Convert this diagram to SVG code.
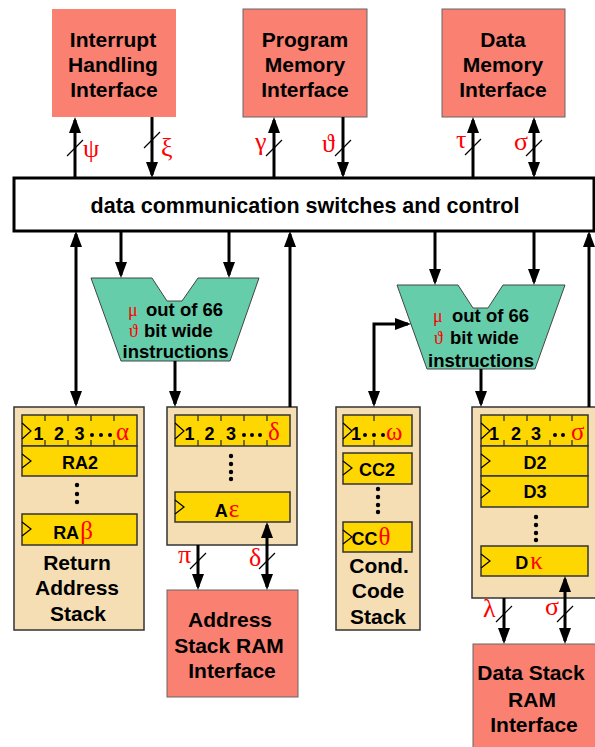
<svg xmlns="http://www.w3.org/2000/svg" width="595" height="747" viewBox="0 0 595 747">
<style>
.io{fill:#FA8072;stroke:#666;stroke-width:1}
.t{font-family:"Liberation Sans",Arial,sans-serif;font-weight:bold;font-size:21px;fill:#000;text-anchor:middle}
.r{font-family:"Liberation Sans",Arial,sans-serif;font-weight:bold;font-size:18px;fill:#000;text-anchor:middle}
.m{font-family:"Liberation Sans",Arial,sans-serif;font-weight:bold;font-size:18.5px;fill:#000}
.g{font-family:"Liberation Serif","DejaVu Serif",serif;font-weight:normal;font-size:26px;fill:#F00}
.gr{font-family:"Liberation Serif","DejaVu Serif",serif;font-weight:normal;font-size:25px;fill:#F00}
.gs{font-family:"Liberation Serif","DejaVu Serif",serif;font-weight:normal;font-size:18px;fill:#F00}
.stk{fill:#F5DEB3;stroke:#333;stroke-width:1.5}
.reg{fill:#FFD700;stroke:#333;stroke-width:1.5}
.tk{stroke:#333;stroke-width:1.3;fill:none}
.clk{stroke:#000;stroke-width:1.2;fill:none}
.mux{fill:#66CDAA;stroke:#444;stroke-width:1}
.w{stroke:#000;stroke-width:3;fill:none}
.sl{stroke:#000;stroke-width:1.2}
.dot{fill:#000}
</style>
<defs>
<marker id="ah" viewBox="0 0 16 12" refX="13" refY="6" markerWidth="16" markerHeight="12" markerUnits="userSpaceOnUse" orient="auto-start-reverse">
<path d="M0,0 L16,6 L0,12 z" fill="#000"/>
</marker>
</defs>

<g id="interrupt">
<rect x="52" y="9" width="124" height="108" fill="#FA8072"/>
<text class="t" x="113" y="47">Interrupt</text>
<text class="t" x="113" y="72">Handling</text>
<text class="t" x="114" y="97">Interface</text>
</g>
<g id="program-memory">
<rect class="io" x="243" y="9" width="124" height="108"/>
<text class="t" x="305" y="47">Program</text>
<text class="t" x="305" y="72">Memory</text>
<text class="t" x="305" y="97">Interface</text>
</g>
<g id="data-memory">
<rect class="io" x="442" y="9" width="123" height="108"/>
<text class="t" x="503" y="47">Data</text>
<text class="t" x="503" y="72">Memory</text>
<text class="t" x="503" y="97">Interface</text>
</g>

<g id="switches">
<rect x="14" y="178" width="580" height="53" fill="#FFF" stroke="#000" stroke-width="3"/>
<text class="t" x="305" y="213" style="font-size:21.5px">data communication switches and control</text>
</g>

<g id="mux1">
<path class="mux" d="M91,278 L152,278 L167,301 L182,301 L198,278 L259,278 L230,361 L121,361 Z"/>
<text class="m"><tspan class="gs" x="128" y="316">μ</tspan><tspan x="146" y="316">out of 66</tspan></text>
<text class="m"><tspan class="gs" x="129" y="337">ϑ</tspan><tspan x="144" y="337">bit wide</tspan></text>
<text class="m" x="175.5" y="358" text-anchor="middle">instructions</text>
</g>

<g id="mux2">
<path class="mux" d="M397,285 L458,285 L473,308 L488,308 L503,285 L565,285 L535,369 L427,369 Z"/>
<text class="m"><tspan class="gs" x="433" y="322">μ</tspan><tspan x="452" y="322">out of 66</tspan></text>
<text class="m"><tspan class="gs" x="434" y="344">ϑ</tspan><tspan x="450" y="344">bit wide</tspan></text>
<text class="m" x="481" y="367" text-anchor="middle">instructions</text>
</g>

<g id="return-address-stack">
<rect class="stk" x="14" y="407" width="130" height="223"/>
<rect class="reg" x="22" y="415" width="115" height="31"/>
<path class="tk" d="M45,415v6M68,415v6M91,415v6M114,415v6M45,446v-6M68,446v-6M91,446v-6M114,446v-6"/>
<path class="clk" d="M22,423 L31,431 L22,439"/>
<text class="r" x="38.5" y="440">1</text>
<text class="r" x="59" y="440">2</text>
<text class="r" x="79.5" y="440">3</text>
<circle class="dot" cx="92" cy="435" r="2"/><circle class="dot" cx="101" cy="435" r="2"/><circle class="dot" cx="110" cy="435" r="2"/>
<text class="gr" x="116" y="440">α</text>
<rect class="reg" x="22" y="446" width="115" height="30"/>
<path class="clk" d="M22,454 L31,461 L22,468"/>
<text class="r" x="80" y="469">RA2</text>
<circle class="dot" cx="77" cy="485" r="2.2"/><circle class="dot" cx="77" cy="494" r="2.2"/><circle class="dot" cx="77" cy="502" r="2.2"/>
<rect class="reg" x="22" y="514" width="115" height="31"/>
<path class="clk" d="M22,522 L31,529 L22,536"/>
<text class="r" x="73" y="539">RA<tspan class="gr" dx="1">β</tspan></text>
<text class="t" x="77" y="570">Return</text>
<text class="t" x="77" y="595">Address</text>
<text class="t" x="78" y="621">Stack</text>
</g>

<g id="address-stack">
<rect class="stk" x="167" y="407" width="130" height="138"/>
<rect class="reg" x="175" y="415" width="115" height="31"/>
<path class="tk" d="M198,415v6M221,415v6M244,415v6M267,415v6M198,446v-6M221,446v-6M244,446v-6M267,446v-6"/>
<path class="clk" d="M175,423 L184,431 L175,439"/>
<text class="r" x="189.5" y="440">1</text>
<text class="r" x="209.5" y="440">2</text>
<text class="r" x="231" y="440">3</text>
<circle class="dot" cx="244" cy="435" r="2"/><circle class="dot" cx="252" cy="435" r="2"/><circle class="dot" cx="260" cy="435" r="2"/>
<text class="gr" x="268" y="440">δ</text>
<circle class="dot" cx="231" cy="456" r="2.2"/><circle class="dot" cx="231" cy="464" r="2.2"/><circle class="dot" cx="231" cy="472" r="2.2"/><circle class="dot" cx="231" cy="479" r="2.2"/>
<rect class="reg" x="175" y="492" width="115" height="30"/>
<path class="clk" d="M175,500 L184,507 L175,514"/>
<text class="r" x="227" y="517">A<tspan class="gr" dx="1">ε</tspan></text>
</g>

<g id="cond-code-stack">
<rect class="stk" x="336" y="407" width="84" height="223"/>
<rect class="reg" x="343" y="415" width="69" height="31"/>
<path class="tk" d="M374,415v6M374,446v-6"/>
<path class="clk" d="M343,423 L352,431 L343,439"/>
<text class="r" x="356" y="440">1</text>
<circle class="dot" cx="365" cy="435" r="2"/><circle class="dot" cx="374" cy="435" r="2"/><circle class="dot" cx="383" cy="435" r="2"/>
<text class="gr" x="386" y="440">ω</text>
<rect class="reg" x="343" y="453" width="69" height="31"/>
<path class="clk" d="M343,461 L352,468 L343,475"/>
<text class="r" x="377" y="476">CC2</text>
<circle class="dot" cx="378" cy="489" r="2.2"/><circle class="dot" cx="378" cy="497" r="2.2"/><circle class="dot" cx="378" cy="505" r="2.2"/><circle class="dot" cx="378" cy="512" r="2.2"/>
<rect class="reg" x="343" y="522" width="69" height="30"/>
<path class="clk" d="M343,530 L352,537 L343,544"/>
<text class="r" x="371" y="545">CC<tspan class="gr" dx="1">θ</tspan></text>
<text class="t" x="379" y="573">Cond.</text>
<text class="t" x="378" y="598">Code</text>
<text class="t" x="378" y="624">Stack</text>
</g>

<g id="data-stack">
<rect class="stk" x="472" y="407" width="130" height="191"/>
<rect class="reg" x="481" y="415" width="107" height="31"/>
<path class="tk" d="M504,415v6M527,415v6M550,415v6M572,415v6M504,446v-6M527,446v-6M550,446v-6M572,446v-6"/>
<path class="clk" d="M481,423 L490,431 L481,439"/>
<text class="r" x="494" y="440">1</text>
<text class="r" x="516" y="440">2</text>
<text class="r" x="536" y="440">3</text>
<circle class="dot" cx="555" cy="435" r="2"/><circle class="dot" cx="563" cy="435" r="2"/>
<text class="gr" x="571" y="440">σ</text>
<rect class="reg" x="481" y="446" width="107" height="30"/>
<path class="clk" d="M481,454 L490,461 L481,468"/>
<text class="r" x="535" y="469">D2</text>
<rect class="reg" x="481" y="476" width="107" height="31"/>
<path class="clk" d="M481,484 L490,491 L481,498"/>
<text class="r" x="535" y="498">D3</text>
<circle class="dot" cx="536" cy="517" r="2.2"/><circle class="dot" cx="536" cy="525" r="2.2"/><circle class="dot" cx="536" cy="533" r="2.2"/><circle class="dot" cx="536" cy="540" r="2.2"/>
<rect class="reg" x="481" y="546" width="107" height="30"/>
<path class="clk" d="M481,554 L490,561 L481,568"/>
<text class="r" x="529" y="569">D<tspan class="gr" dx="2">κ</tspan></text>
</g>

<g id="address-stack-ram">
<rect class="io" x="167" y="590" width="131" height="107"/>
<text class="t" x="230" y="627">Address</text>
<text class="t" x="229" y="653">Stack RAM</text>
<text class="t" x="232" y="678">Interface</text>
</g>

<g id="data-stack-ram">
<rect class="io" x="473" y="644" width="130" height="110"/>
<text class="t" x="531" y="680">Data Stack</text>
<text class="t" x="532" y="707">RAM</text>
<text class="t" x="534" y="732">Interface</text>
</g>

<g id="connectors">
<path class="w" d="M75,178 L75,120" marker-end="url(#ah)"/>
<path class="w" d="M152,117 L152,175" marker-end="url(#ah)"/>
<path class="w" d="M274,178 L274,120" marker-end="url(#ah)"/>
<path class="w" d="M343,117 L343,175" marker-end="url(#ah)"/>
<path class="w" d="M473,178 L473,120" marker-end="url(#ah)"/>
<path class="w" d="M534,175 L534,120" marker-start="url(#ah)" marker-end="url(#ah)"/>
<path class="w" d="M76,234 L76,404" marker-start="url(#ah)" marker-end="url(#ah)"/>
<path class="w" d="M121,231 L121,275" marker-end="url(#ah)"/>
<path class="w" d="M229,231 L229,275" marker-end="url(#ah)"/>
<path class="w" d="M175,361 L175,404" marker-end="url(#ah)"/>
<path class="w" d="M290,407 L290,234" marker-end="url(#ah)"/>
<path class="w" d="M435,231 L435,282" marker-end="url(#ah)"/>
<path class="w" d="M534,231 L534,282" marker-end="url(#ah)"/>
<path class="w" d="M481,369 L481,404" marker-end="url(#ah)"/>
<path class="w" d="M374,404 L374,324 L408,324" marker-start="url(#ah)" marker-end="url(#ah)"/>
<path class="w" d="M589,407 L589,234" marker-end="url(#ah)"/>
<path class="w" d="M198,545 L198,587" marker-end="url(#ah)"/>
<path class="w" d="M267,525 L267,587" marker-start="url(#ah)" marker-end="url(#ah)"/>
<path class="w" d="M504,598 L504,641" marker-end="url(#ah)"/>
<path class="w" d="M565,579 L565,641" marker-start="url(#ah)" marker-end="url(#ah)"/>
<path class="sl" d="M67,156 L83,140M144,148 L160,132M266,156 L282,140M335,156 L351,140M465,155 L481,139M526,156 L542,140M190,569 L206,553M259,569 L275,553M496,622 L512,606M557,622 L573,606"/>
<text class="g" x="83" y="157">ψ</text>
<text class="g" x="161" y="156">ξ</text>
<text class="g" x="255" y="150">γ</text>
<text class="g" x="322" y="152">ϑ</text>
<text class="g" x="456" y="148">τ</text>
<text class="g" x="514" y="150">σ</text>
<text class="g" x="178" y="563">π</text>
<text class="g" x="249" y="566">δ</text>
<text class="g" x="483" y="617">λ</text>
<text class="g" x="545" y="615">σ</text>
</g>
</svg>
